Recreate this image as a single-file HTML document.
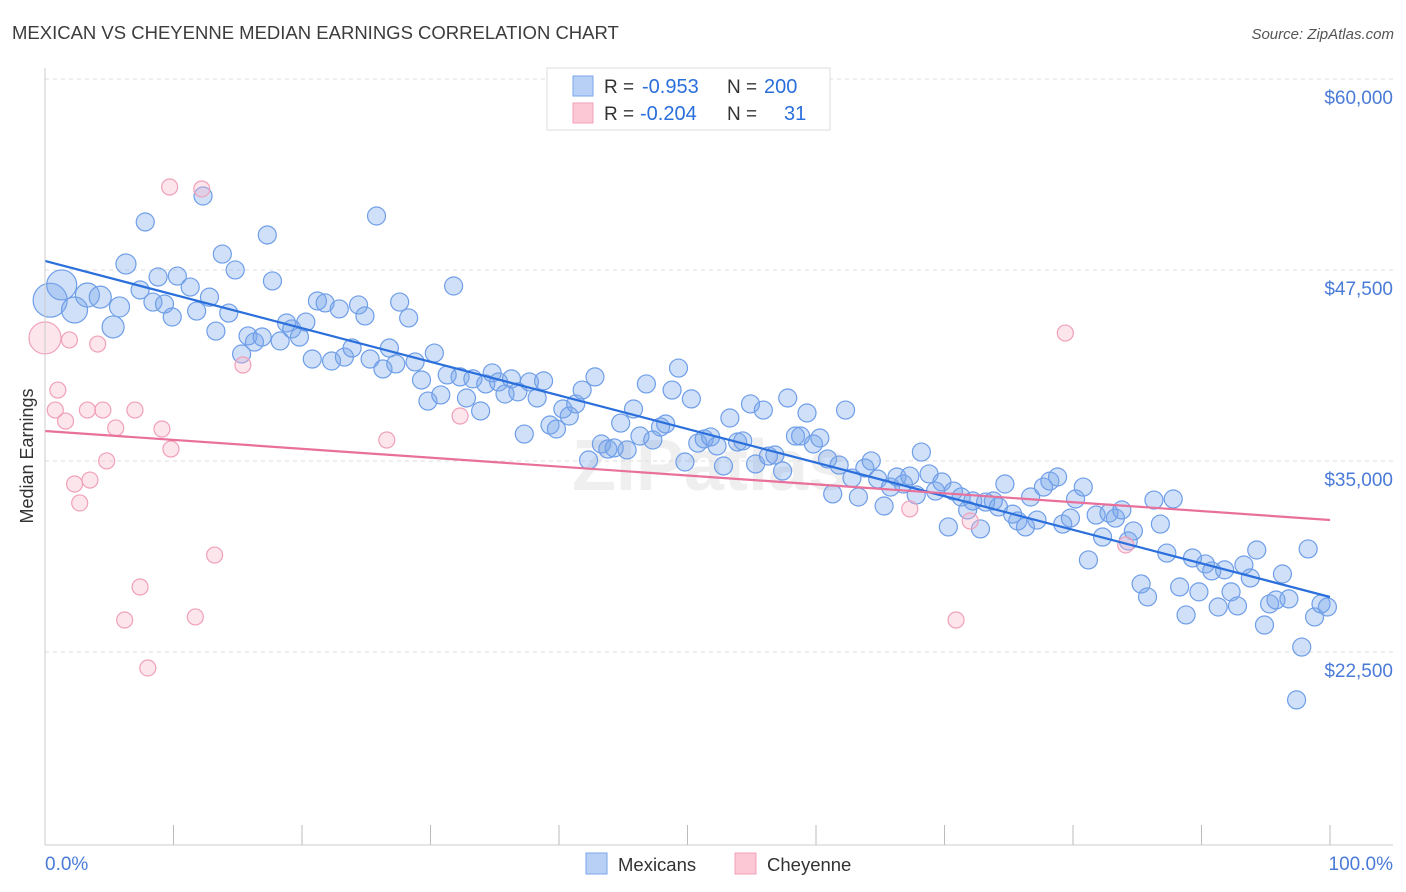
<!DOCTYPE html>
<html><head><meta charset="utf-8"><style>
body{margin:0;background:#fff;font-family:"Liberation Sans",sans-serif;}
#wrap{position:relative;width:1406px;height:892px;overflow:hidden;}
</style></head><body>
<div id="wrap">
<svg id="svg" width="1406" height="892" xmlns="http://www.w3.org/2000/svg">
<text x="12" y="39" font-size="18.5" fill="#3c3c3c">MEXICAN VS CHEYENNE MEDIAN EARNINGS CORRELATION CHART</text>
<text x="1394" y="39" font-size="15" fill="#555" text-anchor="end" font-style="italic">Source: ZipAtlas.com</text>
<text x="33" y="456" font-size="18" fill="#333" text-anchor="middle" transform="rotate(-90 33 456)">Median Earnings</text>
<text x="710" y="490" font-size="72" fill="#efefef" text-anchor="middle" font-weight="bold">ZIPatlas</text>
<g id="grid"></g><g id="marks"></g><g id="lines"></g>
<line x1="45" y1="845" x2="1393" y2="845" stroke="#ccc"/>
<line x1="45" y1="68" x2="45" y2="845" stroke="#ccc"/>
<text x="45" y="870" font-size="19" fill="#4a7bd8">0.0%</text>
<text x="1393" y="870" font-size="19" fill="#4a7bd8" text-anchor="end">100.0%</text>
<g>
<rect x="547" y="68" width="283" height="62" fill="#fff" stroke="#ddd"/>
<rect x="573" y="76" width="20" height="20" fill="#b8d0f5" stroke="#7aa6ea"/>
<rect x="573" y="103" width="20" height="20" fill="#fcc8d6" stroke="#f0a0b8"/>
<text x="604" y="93" font-size="19" fill="#333">R =</text>
<text x="642" y="93" font-size="20" fill="#2a6fdb">-0.953</text>
<text x="727" y="93" font-size="19" fill="#333">N =</text>
<text x="764" y="93" font-size="20" fill="#2a6fdb">200</text>
<text x="604" y="120" font-size="19" fill="#333">R =</text>
<text x="640" y="120" font-size="20" fill="#2a6fdb">-0.204</text>
<text x="727" y="120" font-size="19" fill="#333">N =</text>
<text x="784" y="120" font-size="20" fill="#2a6fdb">31</text>
</g>
<g>
<rect x="586" y="853" width="21" height="21" fill="#b8d0f5" stroke="#7aa6ea"/>
<text x="618" y="871" font-size="18.5" fill="#333">Mexicans</text>
<rect x="735" y="853" width="21" height="21" fill="#fcc8d6" stroke="#f0a0b8"/>
<text x="767" y="871" font-size="18.5" fill="#333">Cheyenne</text>
</g>
</svg>
</div>
<script>
const yTicks=[60000,47500,35000,22500];
const yTickLabels=["$60,000","$47,500","$35,000","$22,500"];
const xTicks=[0,10,20,30,40,50,60,70,80,90,100];
const blueX=[0.4,1.3,2.3,3.3,4.3,5.3,5.8,6.3,7.4,7.8,8.4,8.8,9.3,9.9,10.3,11.3,11.8,12.3,12.8,13.3,13.8,14.3,14.8,15.3,15.8,16.3,16.9,17.3,17.7,18.3,18.8,19.2,19.8,20.3,20.8,21.2,21.8,22.3,22.9,23.3,23.9,24.4,24.9,25.3,25.8,26.3,26.8,27.3,27.6,28.3,28.8,29.3,29.8,30.3,30.8,31.3,31.8,32.3,32.8,33.3,33.9,34.3,34.8,35.3,35.8,36.3,36.8,37.3,37.7,38.3,38.8,39.3,39.8,40.3,40.8,41.3,41.8,42.3,42.8,43.3,43.8,44.3,44.8,45.3,45.8,46.3,46.8,47.3,47.9,48.3,48.8,49.3,49.8,50.3,50.8,51.3,51.8,52.3,52.8,53.3,53.9,54.3,54.9,55.3,55.9,56.3,56.8,57.4,57.8,58.4,58.8,59.3,59.8,60.3,60.9,61.3,61.8,62.3,62.8,63.3,63.8,64.3,64.8,65.3,65.8,66.3,66.8,67.3,67.8,68.2,68.8,69.3,69.8,70.3,70.7,71.3,71.8,72.2,72.8,73.2,73.8,74.2,74.7,75.3,75.7,76.3,76.7,77.2,77.7,78.2,78.8,79.2,79.8,80.2,80.8,81.2,81.8,82.3,82.8,83.3,83.8,84.3,84.7,85.3,85.8,86.3,86.8,87.3,87.8,88.3,88.8,89.3,89.8,90.3,90.8,91.3,91.8,92.3,92.8,93.3,93.8,94.3,94.9,95.3,95.8,96.3,96.8,97.4,97.8,98.3,98.8,99.3,99.8];
const blueY=[46700,47700,46060,47040,46900,44950,46260,49070,47370,51820,46580,48220,46450,45600,48280,47560,45990,53520,46900,44680,49720,45860,48680,43180,44360,43960,44290,50970,47960,44030,45210,44820,44290,45270,42850,46650,46520,42720,46130,42980,43570,46390,45670,42850,52210,42200,43570,42530,46580,45540,42660,41480,40100,43240,40500,41810,47630,41680,40300,41550,39450,41220,41940,41350,40560,41550,40700,37940,41350,40300,41420,38530,38270,39580,39120,39910,40820,36240,41680,37290,36960,37030,38660,36900,39580,37810,41220,37550,38400,38600,40820,42260,36110,40240,37350,37620,37750,37160,35850,38990,37420,37490,39910,35980,39510,36500,36570,35520,40300,37810,37810,39320,37290,37680,36310,34020,35910,39510,35060,33820,35720,36180,35000,33230,34470,35130,34670,35190,33950,36760,35330,34210,34800,31860,34210,33820,32970,33560,31730,33490,33560,33170,34670,32700,32250,31860,33820,32310,34470,34860,35130,32050,32440,33690,34470,29700,32640,31200,32770,32440,32970,30940,31600,28130,27280,33620,32050,30150,33690,27930,26100,29830,27610,29440,28980,26620,29050,27610,26690,29370,28520,30350,25440,26820,27080,28780,27150,20540,24000,30420,25970,26820,26620];
const blueR=[17,15,13,12,11,11,10,10,9,9];
const pinkX=[0,0.8,1.0,1.6,1.9,2.3,2.7,3.5,3.3,4.1,4.5,4.8,5.5,6.2,7.0,7.4,8.0,9.1,9.7,9.8,11.7,12.2,13.2,15.4,26.6,32.3,67.3,70.9,72.0,79.4,84.1];
const pinkY=[44230,39510,40820,38790,44100,34670,33430,34930,39510,43830,39510,36180,38340,25770,39510,27930,22630,38270,54110,36960,25970,53980,30020,42460,37550,39120,33040,25770,32250,44550,30680];
const blueTrend=[49267,27275];
const pinkTrend=[38140,32315];
const NS="http://www.w3.org/2000/svg";
function sx(p){return 45+p*12.85;}
function sy(v){return 97+(60000-v)/65.45;}
function mk(t,a,parent){const e=document.createElementNS(NS,t);for(const k in a)e.setAttribute(k,a[k]);parent.appendChild(e);return e;}
const grid=document.getElementById('grid'),marks=document.getElementById('marks'),lines=document.getElementById('lines'),svg=document.getElementById('svg');
yTicks.forEach((v,i)=>{
 const l=mk('line',{x1:45,x2:1393,y1:sy(v)-18,y2:sy(v)-18,stroke:'#ddd','stroke-dasharray':'4,4'},grid);
 
 
 const t=mk('text',{x:1393,y:sy(v)+7,'font-size':19,fill:'#4a7bd8','text-anchor':'end'},svg);
 t.textContent=yTickLabels[i];
 
 
});
xTicks.forEach(p=>{
 const l=mk('line',{x1:sx(p),x2:sx(p),y1:825,y2:845,stroke:'#bbb'},grid);
 
 
});
blueX.forEach((x,i)=>{
 const c=mk('circle',{cx:sx(x),cy:sy(blueY[i]),r:blueR[i]||9,fill:'rgba(120,165,235,0.35)',stroke:'#6f9ee8','stroke-width':1.2},marks);
 
 
});
pinkX.forEach((x,i)=>{
 const c=mk('circle',{cx:sx(x),cy:sy(pinkY[i]),r:i===0?16:8,fill:'rgba(250,180,200,0.35)',stroke:'#f0a0b8','stroke-width':1.2},marks);
 
 
});
const bl=mk('line',{x1:sx(0),y1:sy(blueTrend[0]),x2:sx(100),y2:sy(blueTrend[1]),stroke:'#2a6fdb','stroke-width':2.2},lines);


const pl=mk('line',{x1:sx(0),y1:sy(pinkTrend[0]),x2:sx(100),y2:sy(pinkTrend[1]),stroke:'#e8709a','stroke-width':2.2},lines);


</script>
</body></html>
